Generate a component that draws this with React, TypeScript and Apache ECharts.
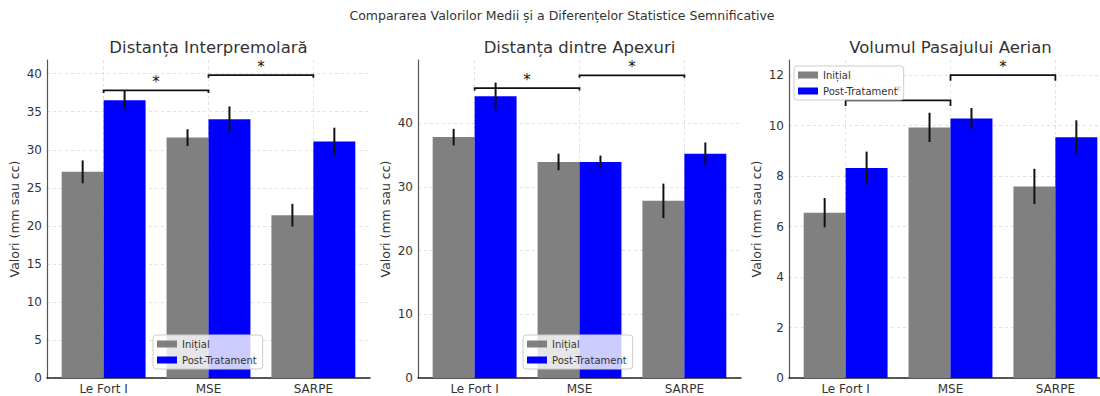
import React, { useEffect, useRef } from 'react';
import * as echarts from 'echarts';

const categories = ['Le Fort I', 'MSE', 'SARPE'];
const seriesNames = ['Inițial', 'Post-Tratament'];
const panelTitles = ['Distanța Interpremolară', 'Distanța dintre Apexuri', 'Volumul Pasajului Aerian'];
const mainTitle = 'Compararea Valorilor Medii și a Diferențelor Statistice Semnificative';
const yAxisName = 'Valori (mm sau cc)';

const interpInitial = [27.1, 31.6, 21.4];
const interpInitialErr = [1.5, 1.1, 1.5];
const interpPost = [36.5, 34.0, 31.1];
const interpPostErr = [1.3, 1.7, 1.8];

const apexInitial = [37.8, 33.9, 27.8];
const apexInitialErr = [1.3, 1.3, 2.7];
const apexPost = [44.2, 33.9, 35.2];
const apexPostErr = [2.15, 1.0, 1.75];

const volInitial = [6.55, 9.93, 7.59];
const volInitialErr = [0.58, 0.58, 0.7];
const volPost = [8.32, 10.28, 9.54];
const volPostErr = [0.65, 0.42, 0.67];

const interpTicks = [0, 5, 10, 15, 20, 25, 30, 35, 40];
const apexTicks = [0, 10, 20, 30, 40];
const volTicks = [0, 2, 4, 6, 8, 10, 12];
const yMaxes = [41.8, 49.9, 12.6];

const sigPairs = [[0, 1], [1, 2]];
const interpSigY = [37.8, 39.8];
const apexSigY = [45.5, 47.5];
const volSigY = [11.0, 12.0];

const FONT = 'DejaVu Sans';
const COLORS = ['#808080', '#0000ff'];

export default function App() {
  const ref = useRef<HTMLDivElement>(null);
  useEffect(() => {
    if (!ref.current) return;
    const chart = echarts.init(ref.current, undefined, { renderer: 'svg' });

    const panels = [
      { ticks: interpTicks, init: interpInitial, initErr: interpInitialErr, post: interpPost, postErr: interpPostErr, sig: interpSigY, interval: 5, left: 47, tick: 2.5, legend: { left: 153, top: 335 } },
      { ticks: apexTicks, init: apexInitial, initErr: apexInitialErr, post: apexPost, postErr: apexPostErr, sig: apexSigY, interval: 10, left: 418, tick: 2.5, legend: { left: 523, top: 335 } },
      { ticks: volTicks, init: volInitial, initErr: volInitialErr, post: volPost, postErr: volPostErr, sig: volSigY, interval: 2, left: 789, tick: 5.5, legend: { left: 794, top: 66 } },
    ];
    const PW = 323;
    const TOP = 60;
    const H = 318;

    const grid = panels.map((p) => ({ left: p.left, top: TOP, width: PW, height: H, containLabel: false, outerBoundsMode: 'none' }));
    const xAxis = panels.map((p, k) => ({
      type: 'value', gridIndex: k, min: -0.54, max: 2.54,
      axisLine: { show: true, onZero: false, lineStyle: { color: '#222', width: 1.5 } },
      axisTick: { show: false, customValues: [0, 1, 2] },
      axisLabel: {
        customValues: [0, 1, 2], margin: 5, color: '#333', fontSize: 12, fontFamily: FONT,
        formatter: (v: number) => (Number.isInteger(v) && categories[v] !== undefined ? categories[v] : ''),
      },
      splitLine: { show: true, lineStyle: { color: '#d9d9d9', type: [3, 3], width: 0.8 } },
    }));
    const yAxis = panels.map((p, k) => ({
      type: 'value', gridIndex: k, min: 0, max: yMaxes[k], interval: p.interval,
      name: yAxisName, nameLocation: 'middle', nameGap: 26,
      nameTextStyle: { color: '#333', fontSize: 12.5, fontFamily: FONT },
      axisLine: { show: true, onZero: false, lineStyle: { color: '#555', width: 1.2 } },
      axisTick: { show: false, customValues: p.ticks },
      axisLabel: { customValues: p.ticks, margin: 5, color: '#333', fontSize: 12, fontFamily: FONT },
      splitLine: { show: true, lineStyle: { color: '#d9d9d9', type: [3, 3], width: 0.8 } },
    }));

    const barRender = (params: any, api: any) => {
      const x = api.value(0);
      const y = api.value(1);
      const e = api.value(2);
      const p0 = api.coord([x - 0.2, y]);
      const p1 = api.coord([x + 0.2, 0]);
      const e0 = api.coord([x, y + e]);
      const e1 = api.coord([x, y - e]);
      return {
        type: 'group',
        children: [
          { type: 'rect', shape: { x: p0[0], y: p0[1], width: p1[0] - p0[0], height: p1[1] - p0[1] }, style: { fill: api.visual('color') } },
          { type: 'line', shape: { x1: e0[0], y1: e0[1], x2: e1[0], y2: e1[1] }, style: { stroke: '#111', lineWidth: 2 } },
        ],
      };
    };

    const series: any[] = [];
    panels.forEach((p, k) => {
      const groups = [
        { vals: p.init, errs: p.initErr, off: -0.2 },
        { vals: p.post, errs: p.postErr, off: 0.2 },
      ];
      groups.forEach((g, gi) => {
        series.push({
          type: 'custom', name: seriesNames[gi], xAxisIndex: k, yAxisIndex: k, z: 2,
          itemStyle: { color: COLORS[gi] },
          encode: { x: 0, y: 1 },
          data: g.vals.map((v, i) => [i + g.off, v, g.errs[i]]),
          renderItem: barRender,
        });
      });
      const tick = p.tick;
      series.push({
        type: 'custom', xAxisIndex: k, yAxisIndex: k, z: 3, silent: true,
        encode: { x: [0, 1], y: 2 },
        data: sigPairs.map((pr, i) => [pr[0], pr[1], p.sig[i]]),
        renderItem: (params: any, api: any) => {
          const a = api.coord([api.value(0), api.value(2)]);
          const b = api.coord([api.value(1), api.value(2)]);
          return {
            type: 'group',
            children: [
              { type: 'polyline', shape: { points: [[a[0], a[1] + tick], [a[0], a[1]], [b[0], b[1]], [b[0], b[1] + tick]] }, style: { stroke: '#111', lineWidth: 1.8, fill: null } },
              { type: 'text', x: (a[0] + b[0]) / 2, y: a[1] - 1, style: { text: '*', fill: '#111', fontSize: 15, fontFamily: FONT, align: 'center', verticalAlign: 'bottom' } },
            ],
          };
        },
      });
    });

    const legend = panels.map((p) => ({
      data: seriesNames, left: p.legend.left, top: p.legend.top, orient: 'vertical',
      icon: 'rect', itemWidth: 20, itemHeight: 7, itemGap: 6, padding: [4, 6, 4, 4],
      backgroundColor: 'rgba(255,255,255,0.8)', borderColor: '#cccccc', borderWidth: 1, borderRadius: 3,
      selectedMode: false,
      textStyle: { color: '#333', fontSize: 10, fontFamily: FONT },
    }));

    const graphic: any[] = [
      { type: 'text', x: 562, y: 15, style: { text: mainTitle, fill: '#333', fontSize: 12.5, fontFamily: FONT, align: 'center', verticalAlign: 'middle' } },
      ...panels.map((p, k) => ({
        type: 'text', x: p.left + PW / 2, y: 47, style: { text: panelTitles[k], fill: '#333', fontSize: 16.5, fontFamily: FONT, align: 'center', verticalAlign: 'middle' },
      })),
    ];

    chart.setOption({
      animation: false,
      backgroundColor: '#ffffff',
      textStyle: { fontFamily: FONT },
      grid, xAxis, yAxis, series, legend, graphic,
    });
    return () => chart.dispose();
  }, []);
  return <div ref={ref} style={{ width: 1100, height: 396, position: 'absolute', left: 0, top: 0 }} />;
}
